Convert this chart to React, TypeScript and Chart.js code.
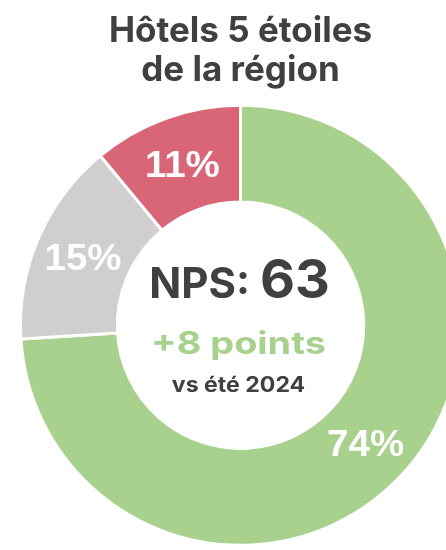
import React, { useEffect, useRef } from "react";
import { Chart, registerables } from "chart.js";

Chart.register(...registerables);

const categories = ["Promoteurs", "Passifs", "Détracteurs"];
const values = [74, 15, 11];
const colors = ["#a9d18e", "#d0cecf", "#d96677"];
const titleLines = ["Hôtels 5 étoiles", "de la région"];
const npsLabel = "NPS: ";
const npsValue = "63";
const deltaText = "+8 points";
const compareText = "vs été 2024";

const FONT = "Inter";
const LABEL_FONT = "'Liberation Sans', Arial";
const DARK = "#404040";

function drawStretched(
  ctx: CanvasRenderingContext2D,
  text: string,
  x: number,
  y: number,
  sx: number
) {
  ctx.save();
  ctx.translate(x, y);
  ctx.scale(sx, 1);
  ctx.textAlign = "center";
  ctx.fillText(text, 0, 0);
  ctx.restore();
}

const labelsPlugin = {
  id: "sliceAndCenterLabels",
  afterDatasetsDraw(chart: any) {
    const ctx = chart.ctx as CanvasRenderingContext2D;
    const meta = chart.getDatasetMeta(0);
    ctx.save();
    ctx.textBaseline = "alphabetic";
    ctx.fillStyle = "#ffffff";
    ctx.font = `bold 37px ${LABEL_FONT}`;
    meta.data.forEach((arc: any, i: number) => {
      const p = arc.tooltipPosition();
      drawStretched(ctx, values[i] + "%", p.x, p.y + 13, 1.04);
    });

    const ca = chart.chartArea;
    const cx = (ca.left + ca.right) / 2;
    const cy = (ca.top + ca.bottom) / 2;

    // NPS line
    ctx.textAlign = "left";
    ctx.fillStyle = DARK;
    ctx.font = `bold 42px ${FONT}`;
    const w1 = ctx.measureText(npsLabel).width;
    ctx.font = `bold 54px ${FONT}`;
    const w2 = ctx.measureText(npsValue).width;
    const startX = cx - 1 - (w1 + w2) / 2;
    ctx.font = `bold 42px ${FONT}`;
    ctx.fillText(npsLabel, startX, cy - 27.5);
    ctx.font = `bold 54px ${FONT}`;
    ctx.fillText(npsValue, startX + w1, cy - 27.5);

    ctx.fillStyle = colors[0];
    ctx.font = `bold 31px ${FONT}`;
    drawStretched(ctx, deltaText, cx - 2, cy + 28.3, 1.22);

    ctx.fillStyle = DARK;
    ctx.font = `bold 21px ${FONT}`;
    drawStretched(ctx, compareText, cx - 2, cy + 66.5, 1.1);
    ctx.restore();
  },
};

export default function App() {
  const ref = useRef<HTMLCanvasElement | null>(null);

  useEffect(() => {
    if (!ref.current) return;
    const chart = new Chart(ref.current, {
      type: "doughnut",
      data: {
        labels: categories,
        datasets: [
          {
            data: values,
            backgroundColor: colors,
            borderColor: "#ffffff",
            borderWidth: 3,
          },
        ],
      },
      options: {
        responsive: false,
        animation: false,
        cutout: "56%",
        layout: { padding: { left: 11, right: 0, top: 0, bottom: 0 } },
        plugins: {
          legend: { display: false },
          tooltip: { enabled: false },
          title: {
            display: true,
            text: titleLines,
            color: DARK,
            font: { family: FONT, size: 35, weight: "bold", lineHeight: 39 / 35 },
            padding: { top: 3.75, bottom: 13.75 },
          },
        },
      },
      plugins: [labelsPlugin],
    });
    return () => chart.destroy();
  }, []);

  return (
    <div
      style={{
        position: "fixed",
        left: 0,
        top: 0,
        width: 446,
        height: 550,
        overflow: "hidden",
      }}
    >
      <canvas
        ref={ref}
        width={454}
        height={539}
        style={{ display: "block", position: "absolute", left: 8, top: 8, width: 454, height: 539 }}
      />
    </div>
  );
}
